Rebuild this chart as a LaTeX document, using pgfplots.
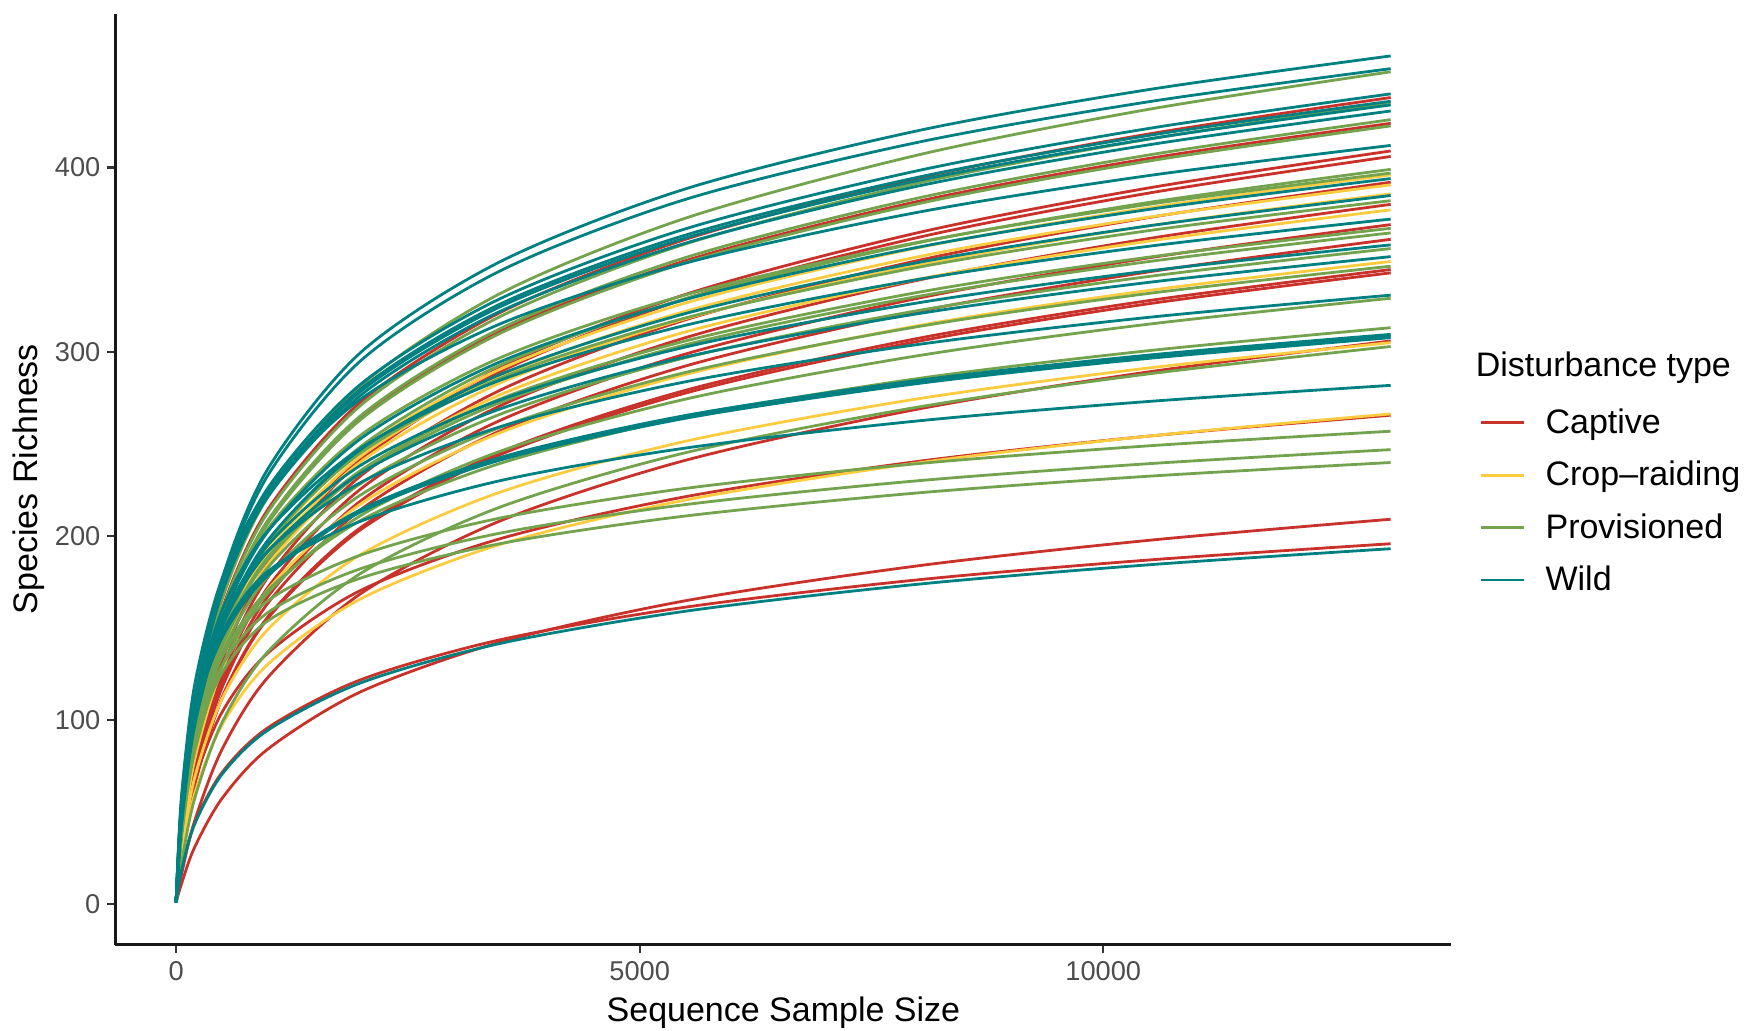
\documentclass[border=0pt]{standalone}
\usepackage{pgfplots}
\pgfplotsset{compat=1.18}
\usepackage{fontspec}
\setmainfont{Liberation Sans}
\definecolor{capc}{RGB}{200,50,43}
\definecolor{cropc}{RGB}{251,204,64}
\definecolor{provc}{RGB}{116,163,78}
\definecolor{wildc}{RGB}{0,128,128}
\definecolor{tickgray}{RGB}{77,77,77}
\begin{document}
\begin{tikzpicture}
\path[use as bounding box] (-57.7pt,-42.7pt) rectangle (820.8pt,472.3pt);
\begin{axis}[
  scale only axis, width=668pt, height=465.5pt,
  at={(0pt,0pt)}, anchor=south west,
  xmin=-655, xmax=13755, ymin=-22, ymax=483.6,
  axis x line*=bottom, axis y line*=left,
  axis line style={-, line width=1.2pt, color=black!90},
  xtick={0,5000,10000}, ytick={0,100,200,300,400},
  scaled x ticks=false, scaled y ticks=false,
  /pgf/number format/1000 sep={},
  /pgf/number format/assume math mode=true,
  tick align=outside, major tick length=4pt,
  tick style={line width=1.1pt, color=black!80},
  minor tick num=0,
  ticklabel style={font=\fontsize{13.6}{15}\selectfont, color=tickgray},
  xticklabel style={yshift=-1pt},
  xlabel={Sequence Sample Size}, ylabel={Species Richness},
  every axis x label/.style={at={(axis description cs:0.5,-0.0825)}, anchor=base, inner sep=0pt, font=\fontsize{17}{20}\selectfont},
  every axis y label/.style={at={(axis description cs:-0.053,0.5)}, rotate=90, anchor=south, inner sep=0pt, font=\fontsize{17}{20}\selectfont},
  legend style={at={(axis description cs:1.0214,0.5754)}, anchor=north west, draw=none, fill=none, inner sep=0pt, outer sep=0pt, row sep=12.4pt, column sep=10pt, font=\fontsize{17}{20}\selectfont, nodes={inner sep=0pt}},
  legend cell align=left,
  legend image code/.code={\draw[#1, line width=1.4pt] (0pt,0pt) -- (21.4pt,0pt);},
  cap/.style={capc, line width=1.4pt, smooth, tension=0.5, forget plot},
  crop/.style={cropc, line width=1.4pt, smooth, tension=0.5, forget plot},
  prov/.style={provc, line width=1.4pt, smooth, tension=0.5, forget plot},
  wild/.style={wildc, line width=1.4pt, smooth, tension=0.5, forget plot},
]
\addlegendimage{capc}\addlegendentry{\vphantom{Cp}Captive}
\addlegendimage{cropc}\addlegendentry{\vphantom{Cp}Crop\textendash raiding}
\addlegendimage{provc}\addlegendentry{\vphantom{Cp}Provisioned}
\addlegendimage{wildc}\addlegendentry{\vphantom{Cp}Wild}
% Captive
\addplot[cap] coordinates {(0,1)(60,42.2)(200,98.6)(500,160.7)(1000,215.1)(2000,273.1)(3500,321.4)(5500,361.1)(8000,394.2)(10500,418.3)(13100,438)};
\addplot[cap] coordinates {(0,1)(60,40.8)(200,95.4)(500,155.6)(1000,208.2)(2000,264.4)(3500,311.2)(5500,349.5)(8000,381.6)(10500,405.0)(13100,424)};
\addplot[cap] coordinates {(0,1)(60,30.7)(200,77.3)(500,133.8)(1000,185.9)(2000,243.0)(3500,291.3)(5500,331.2)(8000,364.6)(10500,389.0)(13100,409)};
\addplot[cap] coordinates {(0,1)(60,30.5)(200,76.8)(500,132.8)(1000,184.5)(2000,241.2)(3500,289.2)(5500,328.8)(8000,362.0)(10500,386.2)(13100,406)};
\addplot[cap] coordinates {(0,1)(60,29.4)(200,74.1)(500,128.3)(1000,178.2)(2000,232.9)(3500,279.2)(5500,317.4)(8000,349.5)(10500,372.9)(13100,392)};
\addplot[cap] coordinates {(0,1)(60,28.5)(200,71.9)(500,124.3)(1000,172.7)(2000,225.8)(3500,270.7)(5500,307.7)(8000,338.8)(10500,361.5)(13100,380)};
\addplot[cap] coordinates {(0,1)(60,27.7)(200,69.8)(500,120.7)(1000,167.7)(2000,219.3)(3500,262.8)(5500,298.8)(8000,329.0)(10500,351.0)(13100,369)};
\addplot[cap] coordinates {(0,1)(60,27.1)(200,68.3)(500,118.1)(1000,164.1)(2000,214.5)(3500,257.1)(5500,292.3)(8000,321.8)(10500,343.4)(13100,361)};
\addplot[cap] coordinates {(0,1)(60,25.9)(200,65.2)(500,112.8)(1000,156.6)(2000,204.8)(3500,245.5)(5500,279.1)(8000,307.2)(10500,327.8)(13100,344.6)};
\addplot[cap] coordinates {(0,1)(60,25.7)(200,64.8)(500,112.2)(1000,155.8)(2000,203.7)(3500,244.2)(5500,277.6)(8000,305.6)(10500,326.1)(13100,342.8)};
\addplot[cap] coordinates {(0,1)(60,16.5)(200,45.2)(500,84.5)(1000,123.7)(2000,168.9)(3500,208.2)(5500,241.1)(8000,268.8)(10500,289.1)(13100,305.8)};
\addplot[cap] coordinates {(0,1)(60,30.2)(200,66.7)(500,104.6)(1000,136.8)(2000,170.6)(3500,198.5)(5500,221.3)(8000,240.4)(10500,254.2)(13100,265.5)};
\addplot[cap] coordinates {(0,1)(60,11.3)(200,30.9)(500,57.7)(1000,84.6)(2000,115.5)(3500,142.3)(5500,164.8)(8000,183.7)(10500,197.6)(13100,209)};
\addplot[cap] coordinates {(0,1)(60,18.8)(200,44.0)(500,71.8)(1000,96.1)(2000,122.0)(3500,143.6)(5500,161.3)(8000,176.1)(10500,186.9)(13100,195.7)};
% Crop-raiding
\addplot[crop] coordinates {(0,1)(60,38.1)(200,89.1)(500,145.3)(1000,194.5)(2000,246.9)(3500,290.6)(5500,326.5)(8000,356.4)(10500,378.2)(13100,396)};
\addplot[crop] coordinates {(0,1)(60,37.6)(200,87.9)(500,143.4)(1000,191.8)(2000,243.5)(3500,286.7)(5500,322.0)(8000,351.5)(10500,373.1)(13100,390.6)};
\addplot[crop] coordinates {(0,1)(60,37.1)(200,86.8)(500,141.6)(1000,189.4)(2000,240.5)(3500,283.1)(5500,318.0)(8000,347.1)(10500,368.4)(13100,385.7)};
\addplot[crop] coordinates {(0,1)(60,36.3)(200,84.8)(500,138.4)(1000,185.1)(2000,235.1)(3500,276.7)(5500,310.8)(8000,339.3)(10500,360.1)(13100,377)};
\addplot[crop] coordinates {(0,1)(60,33.6)(200,78.5)(500,128.1)(1000,171.4)(2000,217.6)(3500,256.1)(5500,287.7)(8000,314.1)(10500,333.3)(13100,349)};
\addplot[crop] coordinates {(0,1)(60,29.4)(200,68.6)(500,111.9)(1000,149.7)(2000,190.1)(3500,223.8)(5500,251.4)(8000,274.4)(10500,291.2)(13100,304.9)};
\addplot[crop] coordinates {(0,1)(60,25.6)(200,59.9)(500,97.7)(1000,130.7)(2000,166.0)(3500,195.4)(5500,219.5)(8000,239.6)(10500,254.2)(13100,266.2)};
% Provisioned
\addplot[prov] coordinates {(0,1)(60,43.5)(200,101.7)(500,165.9)(1000,222.0)(2000,281.8)(3500,331.7)(5500,372.6)(8000,406.8)(10500,431.7)(13100,452)};
\addplot[prov] coordinates {(0,1)(60,41.9)(200,97.9)(500,159.6)(1000,213.6)(2000,271.2)(3500,319.2)(5500,358.6)(8000,391.5)(10500,415.5)(13100,435)};
\addplot[prov] coordinates {(0,1)(60,41.0)(200,95.9)(500,156.3)(1000,209.2)(2000,265.6)(3500,312.6)(5500,351.2)(8000,383.4)(10500,406.9)(13100,426)};
\addplot[prov] coordinates {(0,1)(60,40.7)(200,95.1)(500,155.1)(1000,207.5)(2000,263.5)(3500,310.1)(5500,348.4)(8000,380.3)(10500,403.6)(13100,422.6)};
\addplot[prov] coordinates {(0,1)(60,38.4)(200,89.8)(500,146.4)(1000,196.0)(2000,248.8)(3500,292.8)(5500,328.9)(8000,359.1)(10500,381.1)(13100,399)};
\addplot[prov] coordinates {(0,1)(60,45.1)(200,99.8)(500,156.5)(1000,204.5)(2000,255.0)(3500,296.8)(5500,330.9)(8000,359.4)(10500,380.1)(13100,397)};
\addplot[prov] coordinates {(0,1)(60,43.4)(200,96.0)(500,150.5)(1000,196.8)(2000,245.4)(3500,285.6)(5500,318.4)(8000,345.8)(10500,365.8)(13100,382)};
\addplot[prov] coordinates {(0,1)(60,41.7)(200,92.3)(500,144.6)(1000,189.1)(2000,235.8)(3500,274.4)(5500,305.9)(8000,332.2)(10500,351.4)(13100,367)};
\addplot[prov] coordinates {(0,1)(60,41.4)(200,91.6)(500,143.6)(1000,187.8)(2000,234.2)(3500,272.5)(5500,303.8)(8000,330.0)(10500,349.0)(13100,364.5)};
\addplot[prov] coordinates {(0,1)(60,40.5)(200,89.5)(500,140.3)(1000,183.4)(2000,228.7)(3500,266.1)(5500,296.8)(8000,322.3)(10500,340.9)(13100,356)};
\addplot[prov] coordinates {(0,1)(60,39.4)(200,87.1)(500,136.5)(1000,178.5)(2000,222.5)(3500,259.0)(5500,288.8)(8000,313.6)(10500,331.7)(13100,346.4)};
\addplot[prov] coordinates {(0,1)(60,37.4)(200,82.7)(500,129.7)(1000,169.5)(2000,211.3)(3500,246.0)(5500,274.3)(8000,297.8)(10500,315.0)(13100,329)};
\addplot[prov] coordinates {(0,1)(60,44.3)(200,90.4)(500,134.7)(1000,171.0)(2000,208.6)(3500,239.4)(5500,264.5)(8000,285.4)(10500,300.6)(13100,313)};
\addplot[prov] coordinates {(0,1)(60,22.7)(200,57.3)(500,99.1)(1000,137.6)(2000,179.9)(3500,215.7)(5500,245.2)(8000,269.9)(10500,288.0)(13100,302.8)};
\addplot[prov] coordinates {(0,1)(60,42.0)(200,94.0)(500,135.0)(1000,165.1)(2000,189.7)(3500,209.7)(5500,225.8)(8000,239.2)(10500,248.9)(13100,256.8)};
\addplot[prov] coordinates {(0,1)(60,41.0)(200,90.0)(500,130.0)(1000,158.7)(2000,182.3)(3500,201.5)(5500,217.0)(8000,229.9)(10500,239.2)(13100,246.8)};
\addplot[prov] coordinates {(0,1)(60,40.0)(200,88.0)(500,126.0)(1000,154.2)(2000,177.2)(3500,195.8)(5500,210.8)(8000,223.3)(10500,232.4)(13100,239.8)};
% Wild
\addplot[wild] coordinates {(0,1)(60,48.4)(200,110.5)(500,177.3)(1000,237.2)(2000,300.0)(3500,349.0)(5500,388.5)(8000,420.0)(10500,442.4)(13100,460.6)};
\addplot[wild] coordinates {(0,1)(60,47.6)(200,108.9)(500,174.7)(1000,233.7)(2000,295.5)(3500,344.0)(5500,382.8)(8000,413.7)(10500,435.8)(13100,453.7)};
\addplot[wild] coordinates {(0,1)(60,50.0)(200,110.6)(500,173.4)(1000,226.7)(2000,282.7)(3500,328.9)(5500,366.8)(8000,398.3)(10500,421.3)(13100,440)};
\addplot[wild] coordinates {(0,1)(60,49.6)(200,109.6)(500,171.8)(1000,224.6)(2000,280.1)(3500,326.0)(5500,363.4)(8000,394.7)(10500,417.5)(13100,436)};
\addplot[wild] coordinates {(0,1)(60,49.3)(200,109.1)(500,171.0)(1000,223.6)(2000,278.8)(3500,324.5)(5500,361.8)(8000,392.9)(10500,415.6)(13100,434)};
\addplot[wild] coordinates {(0,1)(60,49.0)(200,108.3)(500,169.7)(1000,221.9)(2000,276.7)(3500,322.0)(5500,359.0)(8000,389.9)(10500,412.4)(13100,430.7)};
\addplot[wild] coordinates {(0,1)(60,58.3)(200,119.0)(500,177.3)(1000,225.1)(2000,274.6)(3500,315.2)(5500,348.2)(8000,375.7)(10500,395.7)(13100,412)};
\addplot[wild] coordinates {(0,1)(60,44.8)(200,99.1)(500,155.3)(1000,203.0)(2000,253.1)(3500,294.6)(5500,328.4)(8000,356.7)(10500,377.3)(13100,394)};
\addplot[wild] coordinates {(0,1)(60,43.8)(200,96.7)(500,151.7)(1000,198.2)(2000,247.2)(3500,287.7)(5500,320.8)(8000,348.4)(10500,368.4)(13100,384.8)};
\addplot[wild] coordinates {(0,1)(60,52.6)(200,107.4)(500,160.1)(1000,203.3)(2000,247.9)(3500,284.6)(5500,314.4)(8000,339.2)(10500,357.3)(13100,372)};
\addplot[wild] coordinates {(0,1)(60,50.7)(200,103.4)(500,154.0)(1000,195.6)(2000,238.6)(3500,273.9)(5500,302.6)(8000,326.5)(10500,343.9)(13100,358)};
\addplot[wild] coordinates {(0,1)(60,49.8)(200,101.5)(500,151.3)(1000,192.1)(2000,234.3)(3500,269.0)(5500,297.2)(8000,320.6)(10500,337.7)(13100,351.6)};
\addplot[wild] coordinates {(0,1)(60,59.7)(200,110.8)(500,156.2)(1000,192.3)(2000,229.2)(3500,259.3)(5500,283.7)(8000,303.9)(10500,318.7)(13100,330.7)};
\addplot[wild] coordinates {(0,1)(60,55.9)(200,103.6)(500,146.1)(1000,179.9)(2000,214.4)(3500,242.6)(5500,265.4)(8000,284.4)(10500,298.2)(13100,309.4)};
\addplot[wild] coordinates {(0,1)(60,55.7)(200,103.3)(500,145.7)(1000,179.4)(2000,213.8)(3500,241.9)(5500,264.6)(8000,283.5)(10500,297.3)(13100,308.5)};
\addplot[wild] coordinates {(0,1)(60,55.6)(200,103.0)(500,145.2)(1000,178.9)(2000,213.2)(3500,241.2)(5500,263.9)(8000,282.7)(10500,296.4)(13100,307.6)};
\addplot[wild] coordinates {(0,1)(60,46.0)(200,103.0)(500,148.0)(1000,181.1)(2000,208.1)(3500,230.0)(5500,247.7)(8000,262.4)(10500,273.0)(13100,281.7)};
\addplot[wild] coordinates {(0,1)(60,18.6)(200,43.4)(500,70.8)(1000,94.8)(2000,120.3)(3500,141.6)(5500,159.1)(8000,173.7)(10500,184.3)(13100,193)};
\end{axis}
\node[anchor=base west, inner sep=0pt, font=\fontsize{17}{20}\selectfont] at (680pt,284pt) {Disturbance type};
\end{tikzpicture}
\end{document}
